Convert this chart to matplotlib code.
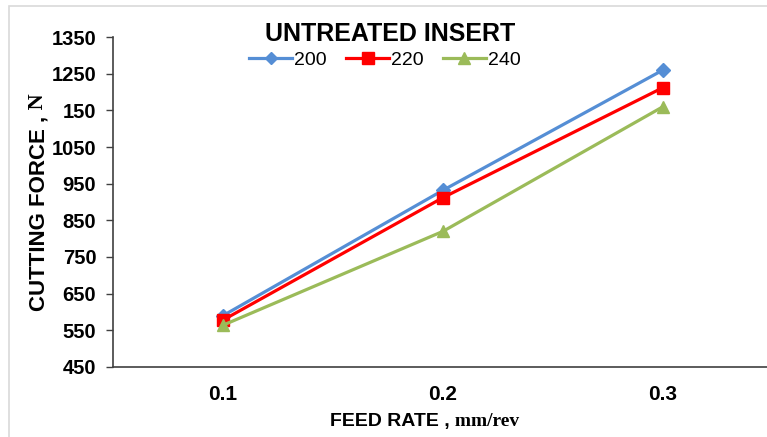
import matplotlib.pyplot as plt
from matplotlib.lines import Line2D

# --- data ---
feed_rates = ["0.1", "0.2", "0.3"]
speeds = ["200", "220", "240"]
force_200 = [590, 932, 1260]
force_220 = [578, 912, 1212]
force_240 = [564, 820, 1160]
y_ticks = [450, 550, 650, 750, 850, 950, 1050, 1150, 1250, 1350]
y_tick_labels = ["450", "550", "650", "750", "850", "950", "1050", "150", "1250", "1350"]

colors = ["#558ED5", "#FF0000", "#9BBB59"]
markers = ["D", "s", "^"]
msizes = [7, 9, 9]

fig = plt.figure(figsize=(7.67, 4.37), dpi=100)
ax = fig.add_axes([0.1473, 0.1602, 0.8605, 0.7551])

# light chart border like the Excel frame
fig.add_artist(plt.Rectangle((9 / 767, -0.1), 2, 1.1 - 6 / 437, transform=fig.transFigure,
                             fill=False, edgecolor="#D9D9D9", linewidth=1.2))

x = list(range(len(feed_rates)))
for vals, c, m, ms, lab in zip([force_200, force_220, force_240], colors, markers, msizes, speeds):
    ax.plot(x, vals, color=c, marker=m, markersize=ms, linewidth=2.3, label=lab)

ax.set_xlim(-0.5, 2.5)
ax.set_ylim(450, 1350)
ax.set_xticks(x)
ax.set_xticklabels(feed_rates, fontfamily="Liberation Sans", fontweight="bold", fontsize=15)
ax.set_yticks(y_ticks)
ax.set_yticklabels(y_tick_labels, fontfamily="Liberation Sans", fontweight="bold", fontsize=14.5)
ax.tick_params(axis="x", length=0, pad=13)
ax.tick_params(axis="y", length=5, width=1, color="#404040", pad=7)

for s in ["top", "right"]:
    ax.spines[s].set_visible(False)
for s in ["left", "bottom"]:
    ax.spines[s].set_color("#404040")
    ax.spines[s].set_linewidth(1.2)

# title and legend
fig.text(390 / 767, 1 - 34 / 437, "UNTREATED INSERT", ha="center", va="center",
         fontfamily="Liberation Sans", fontweight="bold", fontsize=18)
handles = [Line2D([], [], color=c, marker=m, markersize=ms - 1, linewidth=2.3)
           for c, m, ms in zip(colors, markers, msizes)]
fig.legend(handles, speeds, loc="center", bbox_to_anchor=(385 / 767, 1 - 60 / 437),
           ncol=3, frameon=False, handlelength=2.2, handletextpad=0.1, columnspacing=1.0,
           prop={"family": "Liberation Sans", "size": 14})

# axis labels, mixed fonts
xl = fig.text(390 / 767, 1 - 426 / 437, "FEED RATE ,", ha="center", va="baseline",
              fontfamily="Liberation Sans", fontweight="bold", fontsize=14)
ax.annotate(" mm/rev", xy=(1, 0), xycoords=xl, va="bottom", ha="left",
            fontfamily="Liberation Serif", fontweight="bold", fontsize=14)
yl = fig.text(39 / 767, 1 - 213 / 437, "CUTTING FORCE ,", ha="center", va="center",
              rotation=90, fontfamily="Liberation Sans", fontweight="bold", fontsize=16)
ax.annotate(" N", xy=(0, 1), xycoords=yl, va="bottom", ha="left", rotation=90,
            fontfamily="Liberation Serif", fontweight="bold", fontsize=16)

fig.savefig("out.png", dpi=100)
